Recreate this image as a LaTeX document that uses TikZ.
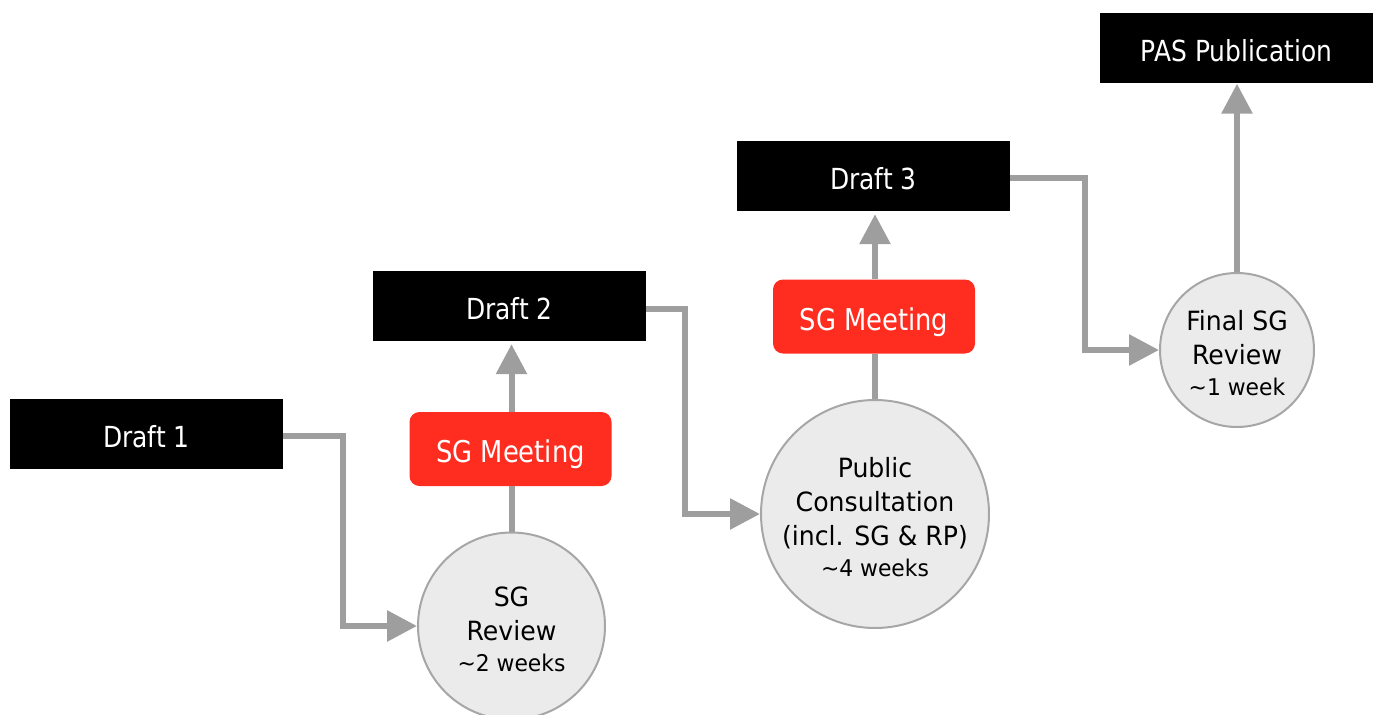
\documentclass[tikz,border=0pt]{standalone}
\usepackage{fontspec}
\setmainfont{DejaVu Sans}
\newfontfamily\boxfont{DejaVu Sans}[FakeStretch=0.86]
\newfontfamily\circfont{DejaVu Sans}[FakeStretch=0.95]
\usetikzlibrary{arrows.meta}
\definecolor{conngray}{HTML}{9E9E9E}
\definecolor{sgred}{HTML}{FF2D20}
\definecolor{circfill}{HTML}{EBEBEB}
\definecolor{circline}{HTML}{A6A6A6}
\tikzset{
  draftbox/.style={rectangle, fill=black, text=white, minimum width=273pt, minimum height=70pt, inner sep=0pt, text height=27pt, text depth=0pt, font=\boxfont\fontsize{29}{32}\selectfont},
  meetbox/.style={rectangle, rounded corners=10pt, fill=sgred, text=white, minimum width=202pt, minimum height=74pt, inner sep=0pt, text height=27pt, text depth=0pt, font=\boxfont\fontsize{30}{32}\selectfont},
  stagecirc/.style={circle, fill=circfill, draw=circline, line width=2pt, inner sep=0pt, align=center, font=\circfont\fontsize{26.5}{34}\selectfont},
  conn/.style={draw=conngray, line width=6pt},
  connarrow/.style={conn, -{Triangle[length=30pt,width=30pt]}}
}
\newcommand{\weeks}[1]{\\[-3pt]{\fontsize{23}{26}\selectfont\textasciitilde #1}}
\newcommand{\topstrut}{\rule{0pt}{26pt}}
\begin{document}
\begin{tikzpicture}[x=1pt,y=-1pt]
\path[use as bounding box] (0,0) rectangle (1377,715);
% draft boxes
\node[draftbox] (d1) at (146.5,433.5) {Draft 1};
\node[draftbox] (d2) at (509.5,306) {Draft 2};
\node[draftbox] (d3) at (873.5,176) {Draft 3};
\node[draftbox] (pas) at (1236.5,47.5) {PAS Publication};
% meetings
\node[meetbox] (m1) at (510.5,449) {SG Meeting};
\node[meetbox] (m2) at (874,316.5) {SG Meeting};
% circles
\node[stagecirc, minimum size=187pt] (r1) at (511.5,626) {\topstrut SG\\Review\weeks{2 weeks}};
\node[stagecirc, minimum size=228pt] (pc) at (875,514) {\topstrut Public\\Consultation\\(incl. SG \& RP)\weeks{4 weeks}};
\node[stagecirc, minimum size=154pt] (fr) at (1237,350) {\topstrut Final SG\\Review\weeks{1 week}};
% connectors
\draw[connarrow] ([yshift=-2.5pt]d1.east) -- ++(60,0) |- (r1.west);
\draw[conn] (r1.north) -- (r1.north |- m1.south);
\draw[connarrow] (r1.north |- m1.north) -- ([yshift=-3pt]r1.north |- d2.south);
\draw[connarrow] ([yshift=-3pt]d2.east) -- ++(39,0) |- (pc.west);
\draw[conn] (pc.north) -- (pc.north |- m2.south);
\draw[connarrow] (pc.north |- m2.north) -- ([yshift=-3pt]pc.north |- d3.south);
\draw[connarrow] ([yshift=-1.5pt]d3.east) -- ++(75,0) |- (fr.west);
\draw[connarrow] (fr.north) -- ([yshift=-1pt]fr.north |- pas.south);
\end{tikzpicture}
\end{document}
